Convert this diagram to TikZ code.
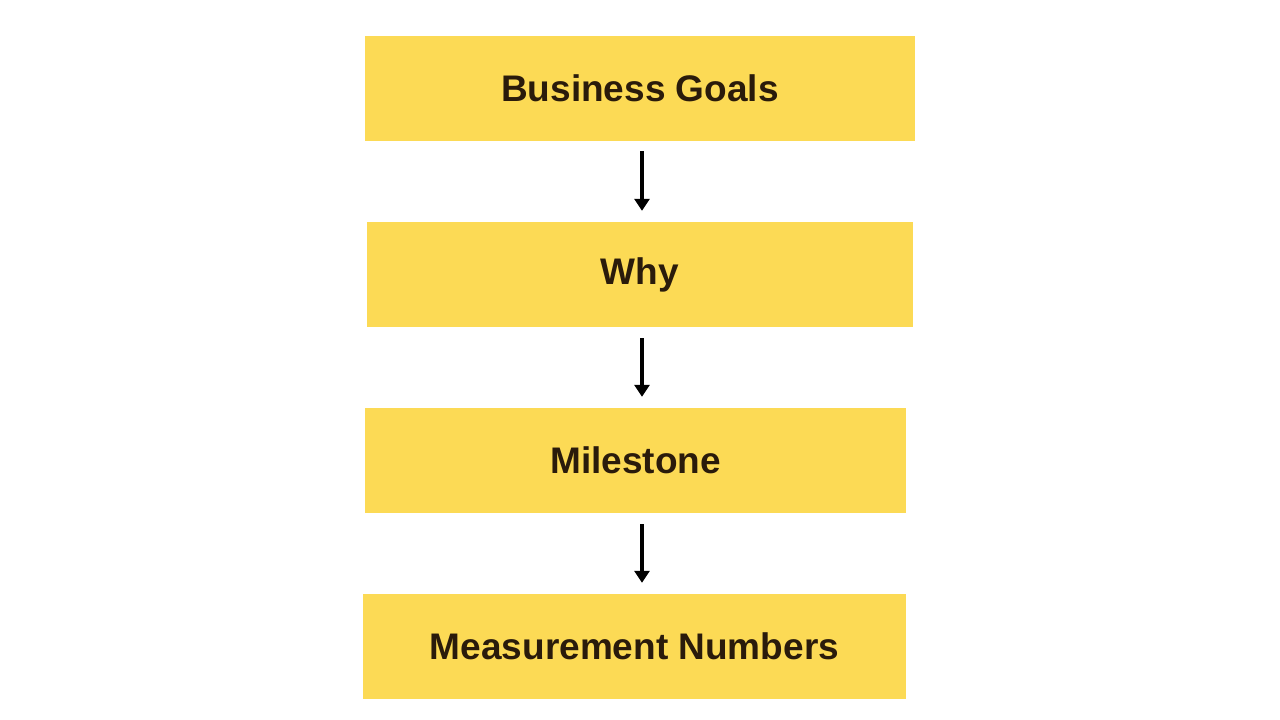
\documentclass[tikz,border=0pt]{standalone}
\usepackage{fontspec}
\setmainfont{Liberation Sans}
\usetikzlibrary{arrows.meta}
\definecolor{boxyellow}{HTML}{FCDA55}
\definecolor{boxtext}{HTML}{2A1B0B}
\tikzset{
  goalbox/.style={fill=boxyellow, inner sep=0pt, minimum height=105pt, text=boxtext, font=\fontsize{37}{42}\selectfont\bfseries},
  flowarrow/.style={line width=3.4pt, -{Triangle[width=15pt,length=12pt]}}
}
\begin{document}
\begin{tikzpicture}[x=1pt,y=-1pt]
%cadre de la page
\useasboundingbox (0,0) rectangle (1280,720);
%les quatre cases
\node[goalbox, minimum width=550pt] (goals) at (640,88.5) {Business Goals};
\node[goalbox, minimum width=546pt] (why) at (640,274.5) {Why};
\node[goalbox, minimum width=541pt] (milestone) at (635.5,460.5) {Milestone};
\node[goalbox, minimum width=543pt] (numbers) at (634.5,646.5) {Measurement Numbers};
%fleches
\draw[flowarrow] ([shift={(2pt,-10pt)}]goals.south) -- ([shift={(2pt,11pt)}]why.north);
\draw[flowarrow] ([shift={(2pt,-11pt)}]why.south) -- ([shift={(6.5pt,11pt)}]milestone.north);
\draw[flowarrow] ([shift={(6.5pt,-11pt)}]milestone.south) -- ([shift={(7.5pt,11pt)}]numbers.north);
\end{tikzpicture}
\end{document}
